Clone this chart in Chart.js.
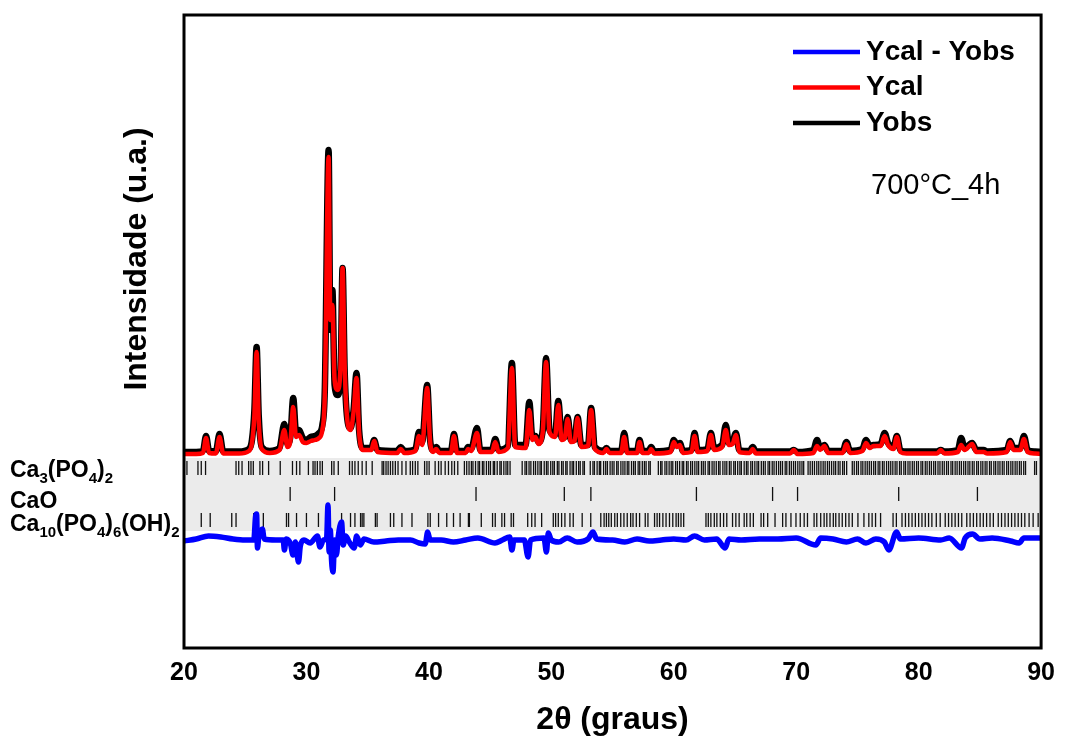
<!DOCTYPE html>
<html>
<head>
<meta charset="utf-8">
<title>Refinamento Rietveld 700°C_4h</title>
<script src="https://cdn.jsdelivr.net/npm/chart.js@4.4.1/dist/chart.umd.min.js"></script>
<style>
  html, body { margin: 0; padding: 0; background: #fff; }
</style>
</head>
<body>
<canvas id="rietveld" width="1065" height="744"></canvas>
<script>
// 2theta grid shared by the observed and calculated profiles
const twoTheta = [
  20.0, 21.0, 21.55, 21.8, 22.05, 22.6, 22.9, 23.2, 24.5, 25.3,
  25.55, 25.75, 25.93, 26.1, 26.35, 27.0, 27.8, 28.19, 28.45, 28.7,
  28.92, 29.15, 29.4, 29.7, 30.0, 30.35, 30.7, 31.03, 31.3, 31.5,
  31.81, 31.95, 32.12, 32.3, 32.55, 32.8, 32.95, 33.12, 33.3, 33.6,
  33.85, 34.09, 34.3, 34.6, 35.3, 35.53, 35.8, 37.4, 37.7, 38.0,
  38.9, 39.19, 39.45, 39.86, 40.1, 40.35, 40.6, 40.85, 41.8, 42.05,
  42.3, 43.0, 43.2, 43.45, 43.93, 44.2, 45.15, 45.42, 45.7, 46.45,
  46.78, 47.05, 47.9, 48.2, 48.45, 48.7, 48.95, 49.3, 49.57, 49.85,
  50.3, 50.57, 50.85, 51.1, 51.33, 51.6, 51.9, 52.14, 52.45, 53.0,
  53.25, 53.55, 54.25, 54.5, 54.75, 55.7, 55.95, 56.2, 57.0, 57.2,
  57.45, 57.95, 58.15, 58.4, 59.75, 60.0, 60.25, 60.5, 60.75, 61.45,
  61.7, 61.95, 62.75, 63.03, 63.3, 63.95, 64.25, 64.5, 64.8, 65.07,
  65.35, 66.2, 66.45, 66.7, 69.5, 69.8, 70.1, 71.4, 71.7, 71.95,
  72.3, 72.6, 73.8, 74.1, 74.4, 75.4, 75.7, 76.0, 76.3, 76.9,
  77.22, 77.5, 77.95, 78.22, 78.5, 79.0, 81.5, 81.8, 82.1, 83.2,
  83.47, 83.75, 84.37, 84.7, 85.3, 85.6, 87.2, 87.47, 87.75, 88.3,
  88.6, 88.9, 89.5, 90.0
];

const yObs = [
  80, 80, 90, 240, 90, 85, 260, 85, 85, 110,
  200, 500, 1130, 450, 130, 90, 120, 360, 160, 250,
  620, 280, 300, 220, 200, 230, 240, 270, 350, 700,
  3100, 1300, 1700, 750, 650, 900, 1920, 900, 450, 320,
  500, 870, 300, 120, 120, 200, 100, 90, 130, 90,
  110, 280, 180, 750, 200, 100, 130, 90, 90, 260,
  90, 90, 130, 110, 320, 100, 100, 210, 100, 140,
  970, 150, 150, 580, 230, 240, 180, 300, 1020, 300,
  250, 590, 220, 230, 430, 200, 200, 430, 150, 150,
  520, 130, 90, 120, 90, 90, 270, 90, 90, 200,
  90, 90, 130, 85, 100, 200, 150, 170, 90, 100,
  270, 100, 110, 270, 120, 150, 350, 170, 180, 270,
  100, 90, 130, 85, 85, 100, 80, 100, 200, 120,
  150, 90, 90, 180, 90, 110, 200, 140, 150, 160,
  270, 170, 130, 240, 100, 85, 85, 100, 85, 100,
  220, 120, 170, 100, 100, 85, 100, 190, 120, 120,
  240, 100, 85, 80
];

const yCal = [
  60, 60, 70, 220, 70, 65, 230, 65, 65, 90,
  170, 450, 1080, 400, 110, 70, 100, 300, 130, 200,
  530, 230, 250, 180, 170, 190, 200, 220, 300, 650,
  3030, 1400, 1550, 800, 700, 1000, 1920, 950, 450, 300,
  480, 820, 280, 100, 100, 190, 80, 70, 110, 70,
  90, 240, 150, 720, 180, 80, 110, 70, 70, 240,
  70, 70, 110, 90, 270, 80, 80, 180, 80, 120,
  920, 130, 120, 500, 200, 230, 160, 280, 980, 280,
  230, 550, 200, 220, 410, 180, 190, 420, 130, 140,
  500, 110, 70, 110, 70, 70, 230, 70, 70, 180,
  70, 70, 110, 65, 80, 180, 130, 150, 70, 80,
  240, 80, 90, 250, 100, 130, 300, 150, 160, 250,
  80, 70, 110, 65, 65, 100, 60, 70, 140, 100,
  140, 70, 70, 160, 70, 90, 170, 120, 140, 140,
  240, 150, 110, 230, 80, 65, 65, 100, 65, 80,
  150, 100, 160, 80, 80, 65, 80, 180, 100, 100,
  210, 80, 65, 60
];

// difference curve, plotted with its own offset below the pattern
const diffTheta = [
  20.0, 21.0, 22.0, 23.0, 24.0, 25.0, 25.7, 25.85, 25.93, 26.0,
  26.1, 26.4, 26.55, 27.5, 28.1, 28.2, 28.35, 28.7, 28.9, 29.1,
  29.35, 29.5, 29.8, 30.3, 30.9, 31.1, 31.4, 31.65, 31.76, 31.85,
  31.95, 32.05, 32.17, 32.3, 32.45, 32.6, 32.87, 33.0, 33.2, 33.5,
  33.9, 34.1, 34.4, 34.7, 35.5, 36.5, 37.5, 38.5, 39.2, 39.7,
  39.9, 40.1, 41.0, 42.0, 43.0, 44.0, 45.4, 46.0, 46.6, 46.78,
  46.95, 47.8, 48.1, 48.3, 49.4, 49.6, 49.75, 50.0, 50.6, 51.3,
  52.1, 53.0, 53.4, 53.7, 55.0, 56.0, 57.0, 58.0, 59.0, 60.0,
  61.0, 61.7, 62.5, 63.5, 64.2, 64.5, 65.5, 67.0, 68.5, 70.0,
  71.6, 72.0, 73.0, 74.1, 75.0, 75.7, 76.5, 77.2, 77.56, 78.2,
  78.5, 80.0, 81.8, 82.5, 83.5, 83.8, 84.4, 85.0, 86.0, 87.5,
  88.2, 88.6, 90.0
];

const yDiff = [
  -810, -790, -760, -770, -790, -800, -800, -560, -540, -880,
  -780, -690, -790, -800, -800, -900, -790, -840, -950, -820,
  -1020, -860, -800, -830, -760, -870, -800, -780, -450, -920,
  -700, -1000, -1120, -800, -950, -760, -620, -850, -760, -820,
  -880, -760, -850, -790, -820, -810, -800, -800, -830, -840,
  -720, -800, -800, -820, -800, -780, -830, -800, -770, -900,
  -800, -800, -970, -800, -780, -920, -730, -800, -820, -780,
  -820, -790, -720, -790, -800, -820, -790, -810, -800, -790,
  -800, -760, -800, -790, -880, -790, -800, -790, -790, -780,
  -850, -780, -790, -820, -790, -830, -790, -820, -900, -720,
  -790, -780, -800, -780, -880, -780, -740, -790, -780, -810,
  -830, -780, -780
];

// Bragg reflection positions for each phase
const braggTCP = [
  20.24, 21.14, 21.41, 21.76, 24.25, 24.47, 24.74, 25.28, 25.47, 25.66,
  26.2, 26.42, 26.91, 27.86, 28.86, 29.19, 29.46, 30.16, 30.54, 30.7,
  30.89, 31.11, 31.3, 32.06, 32.25, 32.6, 33.52, 33.74, 33.96, 34.23,
  34.55, 34.88, 35.37, 36.18, 36.31, 36.5, 36.67, 36.86, 37.05, 37.26,
  37.48, 37.8, 38.13, 38.48, 38.67, 38.89, 39.1, 39.65, 39.84, 40.02,
  40.51, 40.79, 41.0, 41.33, 41.6, 41.87, 42.09, 42.36, 42.9, 43.09,
  43.28, 43.47, 43.6, 43.81, 44.02, 44.14, 44.37, 44.49, 44.7, 44.88,
  45.03, 45.26, 45.37, 45.58, 45.8, 45.91, 46.12, 46.3, 46.44, 46.63,
  47.62, 47.85, 47.98, 48.18, 48.33, 48.55, 48.71, 48.9, 49.08, 49.19,
  49.42, 49.6, 49.73, 49.95, 50.12, 50.25, 50.49, 50.62, 50.84, 50.97,
  51.18, 51.29, 51.53, 51.7, 51.82, 52.04, 52.23, 52.36, 52.58, 52.7,
  53.18, 53.4, 53.52, 53.74, 53.92, 54.03, 54.27, 54.44, 54.58, 54.8,
  54.97, 55.12, 55.34, 55.46, 55.68, 55.85, 56.01, 56.2, 56.33, 56.55,
  56.72, 56.86, 57.09, 57.22, 57.43, 57.6, 57.74, 57.96, 58.08, 58.74,
  58.93, 59.04, 59.28, 59.43, 59.62, 59.79, 59.92, 60.15, 60.3, 60.48,
  60.69, 60.81, 61.04, 61.17, 61.38, 61.53, 61.72, 61.89, 62.03, 62.26,
  62.41, 62.57, 62.8, 62.92, 63.13, 63.29, 63.47, 63.66, 63.78, 64.01,
  64.18, 64.33, 64.54, 64.68, 64.9, 65.03, 65.22, 65.4, 65.52, 65.75,
  65.93, 66.06, 66.29, 66.43, 66.62, 66.8, 66.93, 67.15, 67.32, 67.47,
  67.7, 67.83, 68.04, 68.19, 68.38, 68.56, 68.72, 68.88, 69.1, 69.23,
  69.44, 69.6, 69.78, 69.94, 70.13, 70.3, 70.47, 70.61, 70.97, 71.14,
  71.32, 71.49, 71.68, 71.84, 72.02, 72.2, 72.36, 72.55, 72.71, 72.89,
  73.07, 73.22, 73.43, 73.58, 73.79, 73.93, 74.12, 74.58, 74.74, 74.93,
  75.08, 75.29, 75.44, 75.63, 75.8, 75.97, 76.14, 76.33, 76.48, 76.69,
  76.83, 77.04, 77.18, 77.38, 77.55, 77.72, 77.89, 78.08, 78.23, 78.44,
  78.58, 78.79, 78.93, 79.13, 79.29, 79.48, 79.64, 79.83, 79.98, 80.19,
  80.33, 80.54, 80.69, 80.88, 81.04, 81.23, 81.38, 81.58, 81.74, 81.93,
  82.09, 82.28, 82.43, 82.64, 82.78, 82.98, 83.14, 83.33, 83.49, 83.68,
  83.84, 84.03, 84.18, 84.38, 84.53, 84.74, 84.88, 85.08, 85.24, 85.43,
  85.58, 85.79, 85.93, 86.14, 86.29, 86.48, 86.64, 86.83, 86.98, 87.19,
  87.34, 87.53, 87.69, 87.88, 88.04, 88.23, 88.38, 88.58, 88.73, 89.47,
  89.62
];

const braggCaO = [28.67, 32.3, 43.85, 51.06, 53.23, 61.85, 68.07, 70.11, 78.37, 84.8];

const braggHA = [
  21.41, 22.14, 23.9, 24.25, 25.69, 26.48, 28.37, 28.54, 29.19, 30.0,
  30.98, 31.79, 32.87, 33.6, 33.96, 34.42, 34.55, 34.69, 35.63, 35.77,
  36.86, 37.13, 37.8, 38.62, 39.92, 40.11, 40.79, 41.46, 42.01, 42.55,
  43.23, 43.31, 44.28, 45.2, 45.42, 45.96, 46.18, 46.72, 46.91, 48.07,
  48.4, 48.67, 49.21, 50.16, 50.35, 50.57, 50.84, 51.11, 51.52, 51.79,
  52.52, 53.22, 54.04, 54.31, 54.5, 54.69, 54.9, 55.18, 55.39, 55.67,
  55.93, 56.2, 56.48, 56.67, 56.94, 57.21, 57.67, 57.89, 58.43, 58.64,
  58.84, 59.11, 59.37, 59.65, 59.92, 60.19, 60.38, 60.59, 60.81, 62.63,
  62.82, 63.03, 63.31, 63.52, 63.8, 64.07, 64.33, 64.8, 65.07, 65.34,
  65.75, 65.96, 66.24, 66.5, 67.13, 67.34, 67.67, 68.27, 68.89, 69.16,
  69.57, 69.98, 70.33, 70.65, 70.92, 71.46, 71.68, 72.0, 72.28, 72.5,
  72.76, 73.03, 73.23, 73.5, 73.76, 74.04, 74.31, 74.58, 75.04, 75.53,
  75.93, 76.2, 76.48, 76.89, 77.91, 78.18, 78.64, 78.92, 79.19, 79.46,
  79.73, 80.0, 80.27, 80.54, 80.81, 81.08, 81.44, 81.76, 82.17, 82.44,
  82.71, 82.98, 83.25, 83.52, 83.93, 84.2, 84.47, 84.74, 85.02, 85.28,
  85.55, 85.83, 86.1, 86.5, 86.77, 87.05, 87.32, 87.59, 87.86, 88.13,
  88.4, 88.67, 89.02, 89.35, 89.76
];

const xTicks = [20, 30, 40, 50, 60, 70, 80, 90];

const FONT = "'Liberation Sans', Arial, Helvetica, sans-serif";

// vertical levels (intensity units) for the tick rows and the grey band
const rowLevel = { tcp: -80, cao: -340, ha: -600 };
const band = { top: 20, bottom: -710 };

// phase names drawn left of the plot; [text, isSubscript]
const phaseNames = [
  { y: 477, parts: [['Ca', 0], ['3', 1], ['(PO', 0], ['4', 1], [')', 0], ['2', 1]] },
  { y: 508, parts: [['CaO', 0]] },
  { y: 531, parts: [['Ca', 0], ['10', 1], ['(PO', 0], ['4', 1], [')', 0], ['6', 1], ['(OH)', 0], ['2', 1]] }
];

function pairs(xs, ys) {
  return xs.map((x, i) => ({ x: x, y: ys[i] }));
}
function rowOf(xs, level) {
  return xs.map(x => ({ x: x, y: level }));
}

function tickRow(label, xs, level) {
  return {
    label: label,
    type: 'scatter',
    data: rowOf(xs, level),
    showLine: false,
    pointStyle: 'line',
    rotation: 90,
    pointRadius: 7,
    pointBorderWidth: 1.3,
    borderColor: '#111',
    backgroundColor: '#111'
  };
}

const decor = {
  id: 'decor',
  beforeDatasetsDraw(chart) {
    const { ctx, chartArea: a, scales: { y } } = chart;
    const t = y.getPixelForValue(band.top);
    const b = y.getPixelForValue(band.bottom);
    ctx.save();
    ctx.fillStyle = '#ebebeb';
    ctx.fillRect(a.left, t, a.right - a.left, b - t);
    ctx.restore();
  },
  afterDraw(chart) {
    const { ctx, chartArea: a } = chart;
    ctx.save();

    // plot frame
    ctx.strokeStyle = '#000';
    ctx.lineWidth = 3;
    ctx.strokeRect(a.left, a.top, a.right - a.left, a.bottom - a.top);

    // y axis title
    ctx.fillStyle = '#000';
    ctx.save();
    ctx.translate(137, 259);
    ctx.rotate(-Math.PI / 2);
    ctx.font = 'bold 32px ' + FONT;
    ctx.textAlign = 'center';
    ctx.textBaseline = 'middle';
    ctx.fillText('Intensidade (u.a.)', 0, 0);
    ctx.restore();

    // key, top right
    const keyItems = chart.data.datasets.filter(d => d.inKey);
    ctx.font = 'bold 28px ' + FONT;
    ctx.textAlign = 'left';
    ctx.textBaseline = 'middle';
    keyItems.forEach((d, i) => {
      const yy = 52 + i * 35.5;
      ctx.strokeStyle = d.borderColor;
      ctx.lineWidth = 4.5;
      ctx.beginPath();
      ctx.moveTo(793, yy);
      ctx.lineTo(860, yy);
      ctx.stroke();
      ctx.fillText(d.label, 866, yy);
    });

    ctx.font = '29px ' + FONT;
    ctx.fillText('700°C_4h', 871, 186);

    // phase names with subscripts
    phaseNames.forEach(row => {
      let x = 10;
      row.parts.forEach(([txt, sub]) => {
        ctx.font = sub ? 'bold 15px ' + FONT : 'bold 23px ' + FONT;
        ctx.textBaseline = 'alphabetic';
        ctx.fillText(txt, x, sub ? row.y + 6 : row.y);
        x += ctx.measureText(txt).width;
      });
    });

    ctx.restore();
  }
};

new Chart(document.getElementById('rietveld'), {
  type: 'line',
  data: {
    datasets: [
      {
        label: 'Ycal - Yobs',
        inKey: true,
        data: pairs(diffTheta, yDiff),
        borderColor: '#0000ff',
        borderWidth: 5.5,
        pointRadius: 0,
        cubicInterpolationMode: 'monotone'
      },
      {
        label: 'Ycal',
        inKey: true,
        data: pairs(twoTheta, yCal),
        borderColor: '#ff0000',
        borderWidth: 4.5,
        pointRadius: 0,
        cubicInterpolationMode: 'monotone'
      },
      {
        label: 'Yobs',
        inKey: true,
        data: pairs(twoTheta, yObs),
        borderColor: '#000000',
        borderWidth: 6.5,
        pointRadius: 0,
        cubicInterpolationMode: 'monotone'
      },
      tickRow('Ca3(PO4)2', braggTCP, rowLevel.tcp),
      tickRow('CaO', braggCaO, rowLevel.cao),
      tickRow('Ca10(PO4)6(OH)2', braggHA, rowLevel.ha)
    ]
  },
  options: {
    responsive: false,
    animation: false,
    events: [],
    layout: { padding: { left: 184, right: 20, top: 15, bottom: 0 } },
    plugins: {
      legend: { display: false },
      tooltip: { enabled: false }
    },
    scales: {
      x: {
        type: 'linear',
        min: 20,
        max: 90,
        afterFit: s => { s.height = 96; },
        afterBuildTicks: s => { s.ticks = xTicks.map(v => ({ value: v })); },
        grid: { display: false, drawTicks: false },
        border: { display: false },
        ticks: {
          color: '#000',
          padding: 10,
          maxRotation: 0,
          font: { family: FONT, size: 25, weight: 'bold' }
        },
        title: {
          display: true,
          text: '2θ (graus)',
          color: '#000',
          padding: { top: 0, bottom: 5 },
          font: { family: FONT, size: 32, weight: 'bold' }
        }
      },
      y: {
        display: false,
        min: -1880,
        max: 4450
      }
    }
  },
  plugins: [decor]
});
</script>
</body>
</html>
